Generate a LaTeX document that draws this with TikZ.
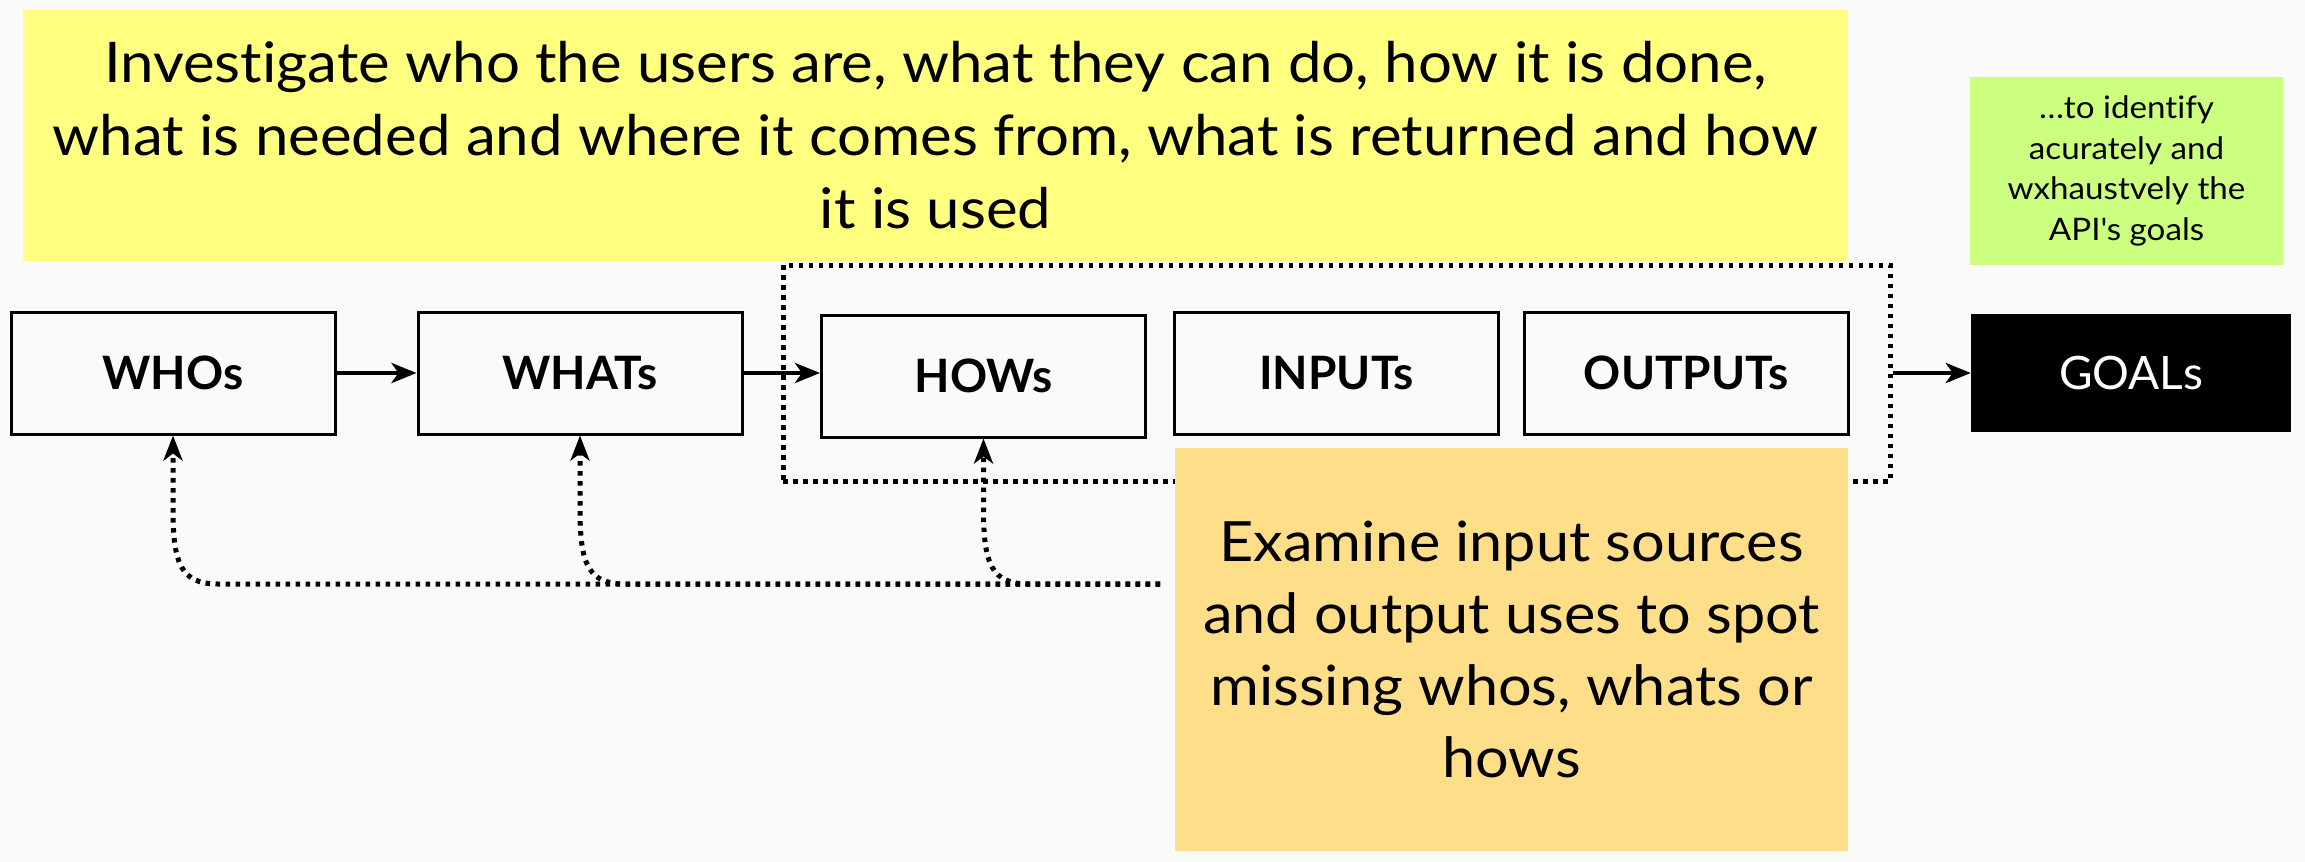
\documentclass[tikz,border=0pt]{standalone}
\usepackage{fontspec}
\setmainfont{Lato}[Ligatures={TeX,NoCommon}]
\newfontfamily\wide{Lato}[FakeStretch=1.07, Ligatures={TeX,NoCommon}]
\usetikzlibrary{arrows.meta,calc}
\definecolor{bg}{RGB}{250,250,250}
\definecolor{yel}{RGB}{255,255,128}
\definecolor{grn}{RGB}{204,255,128}
\definecolor{org}{RGB}{255,222,138}
\begin{document}
\begin{tikzpicture}[x=1pt,y=-1pt,
  note/.style={inner sep=0pt, align=center, text=black},
  stepbox/.style={draw=black, line width=3pt, fill=bg, minimum width=324pt, minimum height=122pt, inner sep=0pt, font=\bfseries\fontsize{46}{50}\selectfont},
  arr/.style={line width=4.5pt, -{Stealth[length=25pt,width=20pt,inset=7pt]}},
  dots/.style={line width=5pt, dash pattern=on 4.5pt off 5.5pt},
  fbk/.style={dots, -{Stealth[length=25pt,width=19pt,inset=7pt]}}
]
\fill[bg] (0,0) rectangle (2305,862);
\useasboundingbox (0,0) rectangle (2305,862);

\node[note, fill=yel, minimum width=1825pt, minimum height=251pt, font=\wide\fontsize{56}{73}\selectfont] (inv) at (935.5,135.5)
  {Investigate who the users are, what they can do, how it is done,\\what is needed and where it comes from, what is returned and how\\it is used};
\node[note, fill=grn, minimum width=313pt, minimum height=188pt, font=\wide\fontsize{31}{40.5}\selectfont] (aim) at (2126.5,171)
  {…to identify\\acurately and\\wxhaustvely the\\API\textquotesingle s goals};

\node[dots, draw=black, minimum width=1107pt, minimum height=216pt, inner sep=0pt] (grp) at (1336.5,373) {};

\node[note, fill=org, minimum width=673pt, minimum height=403pt, font=\wide\fontsize{55.5}{72}\selectfont] (exam) at (1511.5,649.5)
  {Examine input sources\\and output uses to spot\\missing whos, whats or\\hows};

\node[stepbox] (whos) at (173,373) {WHOs};
\node[stepbox] (whats) at (580,373) {WHATs};
\node[stepbox] (hows) at (983.5,376) {HOWs};
\node[stepbox] (inputs) at (1336.5,373) {INPUTs};
\node[stepbox] (outputs) at (1686,373) {OUTPUTs};
\node[fill=black, text=white, minimum width=320pt, minimum height=118pt, inner sep=0pt, font=\fontsize{46}{50}\selectfont] (goals) at (2131,373) {GOALs};

\draw[arr] (whos.east) -- (whats.west);
\draw[arr] (whats.east) -- (hows.west |- whats.east);
\draw[arr] (grp.east) -- (goals.west);

\coordinate (fb) at (1160,584);
\foreach \t in {whos,whats,hows}{
  \draw[fbk] (fb) -- ($(\t.south |- fb)+(45,0)$)
    .. controls ($(\t.south |- fb)+(8,0)$) and ($(\t.south |- fb)+(0,-20)$) .. ($(\t.south |- fb)+(0,-75)$)
    -- (\t.south);
}
\end{tikzpicture}
\end{document}
